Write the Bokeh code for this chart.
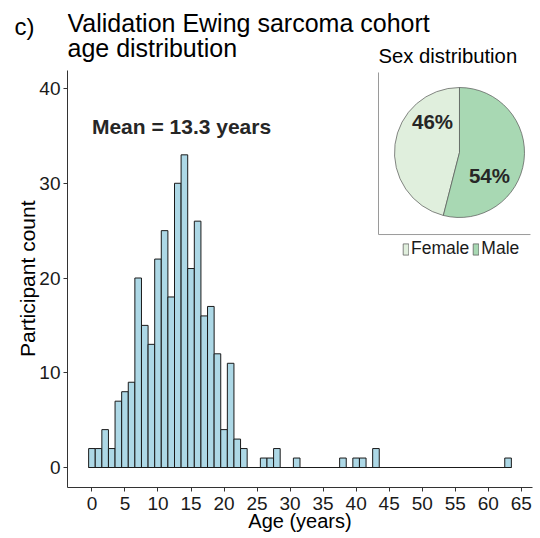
from math import pi
import numpy as np
from bokeh.plotting import figure
from bokeh.models import Range1d, Label, Legend, LegendItem, ColumnDataSource, LinearAxis, FixedTicker
from bokeh.embed import file_html
from bokeh.resources import INLINE
from bokeh.core.properties import value

# ---------------- data ----------------
ages = list(range(64))  # one-year bins, centred on each age
counts = [2, 2, 4, 2, 7, 8, 9, 20, 15, 13,
          22, 25, 18, 30, 33, 21, 26, 16, 17, 12,
          4, 11, 3, 2, 0, 0, 1, 1, 2, 0,
          0, 1, 0, 0, 0, 0, 0, 0, 1, 0,
          1, 1, 0, 2] + [0] * 19 + [1]
mean_age = 13.3

sex_labels = ["Female", "Male"]
sex_pct = [46, 54]
sex_colors = ["#e0efdd", "#a8d8b3"]

x_ticks = list(range(0, 66, 5))
y_ticks = [0, 10, 20, 30, 40]

FONT = "Liberation Sans"
DARK = "#262626"

# ---------------- figure ----------------
p = figure(width=540, height=538, x_range=Range1d(-3.7, 66.7), y_range=Range1d(-2.11, 49.29),
           output_backend="svg", toolbar_location=None,
           min_border_left=67, min_border_right=8, min_border_top=0, min_border_bottom=51)
p.outline_line_color = None
p.grid.visible = False
p.background_fill_color = "white"

# pixel-like helper ranges (for titles) and unit ranges for the pie inset
p.extra_x_ranges = {"px": Range1d(67, 532), "pie": Range1d(-6.0308, 1.1231)}
p.extra_y_ranges = {"px": Range1d(487, 0), "pie": Range1d(-5.1538, 2.3385)}

for ax, ticks in ((p.xaxis, x_ticks), (p.yaxis, y_ticks)):
    ax.ticker = ticks
    ax.axis_line_color = "#333333"
    ax.axis_line_width = 1
    ax.major_tick_line_color = "#333333"
    ax.major_tick_out = 4
    ax.major_tick_in = 0
    ax.minor_tick_line_color = None
    ax.major_label_text_font = FONT
    ax.major_label_text_font_size = "19px"
    ax.major_label_text_color = "#1a1a1a"
    ax.axis_label_text_font = FONT
    ax.axis_label_text_font_size = "20px"
    ax.axis_label_text_font_style = "normal"
    ax.axis_label_text_color = "#000000"

p.yaxis.bounds = (-2.11, 41.9)
p.yaxis.major_label_standoff = 3
p.xaxis.major_label_standoff = 5
p.xaxis.axis_label = "Age (years)"
p.xaxis.axis_label_standoff = -3


def side_text_axis(text, ypx, size, standoff, angle, bounds="auto"):
    ax = LinearAxis(y_range_name="px", ticker=FixedTicker(ticks=[ypx]), bounds=bounds,
                    major_label_overrides={ypx: text}, axis_line_color=None,
                    major_tick_line_color=None, minor_tick_line_color=None,
                    major_tick_out=0, major_tick_in=0, major_label_standoff=standoff,
                    major_label_orientation=angle, major_label_text_font=FONT,
                    major_label_text_font_size=size, major_label_text_color="#000000")
    p.add_layout(ax, "left")


# panel tag (partly above the page edge, as in the original) and y-axis title
side_text_axis("c)", 1, "24px", 2, 0, bounds=(-30, 487))
side_text_axis("Participant count", 200, "21px", -16, pi / 2)

# histogram bars
src = ColumnDataSource(dict(left=[a - 0.5 for a in ages], right=[a + 0.5 for a in ages],
                            top=counts, bottom=[0] * len(ages)))
p.quad(left="left", right="right", top="top", bottom="bottom", source=src,
       fill_color="#add8e6", line_color="#1a1a1a", line_width=1)
p.segment(x0=[ages[0] - 0.5], y0=[0], x1=[ages[-1] + 0.5], y1=[0], line_color="#1a1a1a", line_width=1)

p.add_layout(Label(x=0, y=36, text=f"Mean = {mean_age} years", text_align="left", text_baseline="middle",
                   text_font=FONT, text_font_size="21px", text_font_style="bold", text_color=DARK))


def lab(text, x, y, size, **kw):
    p.add_layout(Label(x=x, y=y, x_range_name="px", y_range_name="px", text=text, text_font=FONT,
                       text_font_size=size, text_color=kw.pop("color", "#000000"), **kw))


lab("Validation Ewing sarcoma cohort", 67, 36, "25px")
lab("age distribution", 67, 61.5, "25px")
lab("Sex distribution", 378, 66, "20.3px")

# ---------------- pie inset ----------------
fr = np.array(sex_pct) / sum(sex_pct)
cum = np.concatenate([[0], np.cumsum(fr)])
start = pi / 2 + 2 * pi * cum[:-1]
end = pi / 2 + 2 * pi * cum[1:]
psrc = ColumnDataSource(dict(start=list(start), end=list(end), color=sex_colors, label=sex_labels))

# inset panel borders
p.segment(x0=[-1.246, -1.246], y0=[1.231, -1.262], x1=[-1.246, 1.092], y1=[-1.262, -1.262],
          x_range_name="pie", y_range_name="pie", line_color="#9a9a9a", line_width=1)

wr = p.wedge(x=0, y=0, radius=1, start_angle="start", end_angle="end", direction="anticlock",
             fill_color="color", line_color="#555555", line_width=0.7, source=psrc,
             x_range_name="pie", y_range_name="pie")

tsrc = ColumnDataSource(dict(x=[-0.415, 0.46], y=[0.477, -0.354], t=[f"{v}%" for v in sex_pct]))
p.text(x="x", y="y", text="t", source=tsrc, x_range_name="pie", y_range_name="pie",
       text_font=value(FONT), text_font_size="20.5px", text_font_style="bold", text_color=DARK,
       text_align="center", text_baseline="middle")

legend = Legend(items=[LegendItem(label=l, renderers=[wr], index=i) for i, l in enumerate(sex_labels)],
                orientation="horizontal", location=(335, 228), glyph_width=7, glyph_height=14,
                label_standoff=2, spacing=3, padding=0, margin=0, border_line_color=None,
                background_fill_alpha=0, label_text_font=FONT, label_text_font_size="17.5px",
                label_height=14, label_text_color="#1a1a1a")
p.add_layout(legend)

open("out.html", "w").write(file_html(p, INLINE))
